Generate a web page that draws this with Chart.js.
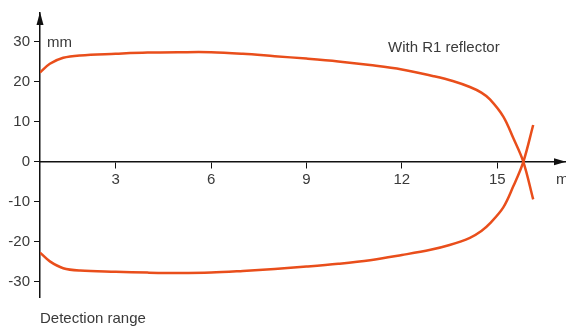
<!DOCTYPE html>
<html lang="en">
<head>
    <meta charset="UTF-8">
    <title>Detection range</title>
    <script src="https://cdn.jsdelivr.net/npm/chart.js"></script>
    <style>
        body { margin: 0; background: #fff; }
        #wrap { width: 566px; height: 329px; position: relative; }
    </style>
</head>
<body>
    <div id="wrap"><canvas id="chart"></canvas></div>

    <script>
        // values (x in m, y in mm)
        const upperX = [0.62, 0.93, 1.35, 1.88, 3, 4, 5, 6, 7, 8, 9, 10, 11, 12, 13, 13.6, 14.14, 14.5, 14.77, 15.19, 15.5, 15.82, 16.13];
        const upperY = [22.3, 24.5, 26.0, 26.6, 27.0, 27.3, 27.4, 27.4, 27.0, 26.4, 25.8, 25.1, 24.2, 23.1, 21.4, 20.2, 18.7, 17.3, 15.6, 11.3, 6.0, 0, -9.4];
        const lowerX = [0.62, 0.93, 1.35, 1.88, 3, 4, 5, 6, 7, 8, 9, 10, 11, 12, 12.9, 13.5, 14.14, 14.5, 14.77, 15.19, 15.5, 15.82, 16.13];
        const lowerY = [-22.7, -24.9, -26.6, -27.2, -27.5, -27.7, -27.8, -27.7, -27.3, -26.8, -26.2, -25.5, -24.6, -23.3, -22.0, -20.8, -19.0, -17.3, -15.4, -11.4, -6.2, 0, 9.2];
        const xTicks = [3, 6, 9, 12, 15];
        const yTicks = [-30, -20, -10, 0, 10, 20, 30];

        const lineColor = "#e94e1b";
        const axisColor = "#111";
        const textColor = "#3a3a3a";
        const fontFamily = "'Liberation Sans', Arial, sans-serif";

        const toPoints = (xs, ys) => xs.map((x, i) => ({ x: x, y: ys[i] }));

        const arrowsAndLabels = {
            id: "arrowsAndLabels",
            afterDraw(chart) {
                const ctx = chart.ctx;
                const area = chart.chartArea;
                const y0 = chart.scales.y.getPixelForValue(0);
                ctx.save();
                ctx.fillStyle = axisColor;
                // y axis arrow
                ctx.beginPath();
                ctx.moveTo(area.left, area.top - 1);
                ctx.lineTo(area.left - 3.5, area.top + 12);
                ctx.lineTo(area.left + 3.5, area.top + 12);
                ctx.closePath();
                ctx.fill();
                // x axis arrow
                ctx.beginPath();
                ctx.moveTo(area.right + 1, y0);
                ctx.lineTo(area.right - 11, y0 - 3.5);
                ctx.lineTo(area.right - 11, y0 + 3.5);
                ctx.closePath();
                ctx.fill();

                ctx.fillStyle = textColor;
                ctx.font = "15px " + fontFamily;
                ctx.textBaseline = "alphabetic";
                ctx.textAlign = "left";
                ctx.fillText("mm", 47, 47);
                ctx.fillText("mm", 556, 184);
                ctx.fillText("With R1 reflector", 388, 51.5);
                ctx.fillText("Detection range", 40, 322.5);
                ctx.restore();
            }
        };

        new Chart(document.getElementById("chart"), {
            type: "scatter",
            data: {
                datasets: [
                    {
                        data: toPoints(upperX, upperY),
                        showLine: true,
                        borderColor: lineColor,
                        borderWidth: 2.5,
                        pointRadius: 0,
                        tension: 0.35
                    },
                    {
                        data: toPoints(lowerX, lowerY),
                        showLine: true,
                        borderColor: lineColor,
                        borderWidth: 2.5,
                        pointRadius: 0,
                        tension: 0.35
                    }
                ]
            },
            options: {
                responsive: true,
                maintainAspectRatio: false,
                animation: false,
                layout: { padding: { top: 10, bottom: 32, right: 1, left: 0 } },
                plugins: {
                    legend: { display: false },
                    tooltip: { enabled: false }
                },
                scales: {
                    x: {
                        type: "linear",
                        position: { y: 0 },
                        min: 0.62,
                        max: 17.13,
                        afterBuildTicks: s => { s.ticks = xTicks.map(v => ({ value: v })); },
                        grid: { drawOnChartArea: false, drawTicks: true, tickLength: 6, color: axisColor },
                        border: { display: true, color: axisColor, width: 1.5 },
                        ticks: { color: textColor, font: { size: 15, family: fontFamily }, padding: 3, maxRotation: 0 }
                    },
                    y: {
                        min: -33.8,
                        max: 37.2,
                        afterBuildTicks: s => { s.ticks = yTicks.map(v => ({ value: v })); },
                        afterFit: s => { s.width = 40; },
                        grid: { drawOnChartArea: false, drawTicks: true, tickLength: 6, color: axisColor },
                        border: { display: true, color: axisColor, width: 1.5 },
                        ticks: { color: textColor, font: { size: 15, family: fontFamily }, padding: 4 }
                    }
                }
            },
            plugins: [arrowsAndLabels]
        });
    </script>
</body>
</html>
